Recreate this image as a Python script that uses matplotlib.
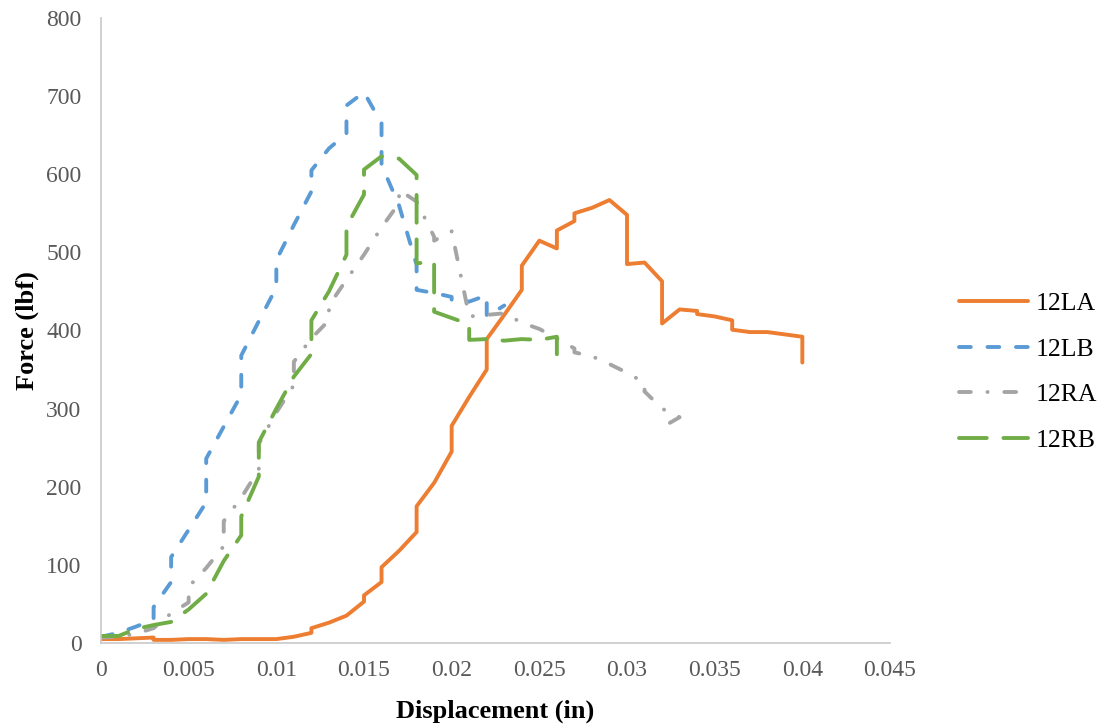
import matplotlib
matplotlib.use("Agg")
import matplotlib.pyplot as plt

# Load-displacement records for the four 12-series specimens
disp_12la = [0, 0.001, 0.002, 0.003, 0.003, 0.004, 0.005, 0.006, 0.007, 0.008, 0.009, 0.010,
             0.011, 0.012, 0.012, 0.013, 0.014, 0.015, 0.015, 0.016, 0.016, 0.017, 0.018, 0.018,
             0.019, 0.020, 0.020, 0.021, 0.022, 0.022, 0.023, 0.024, 0.024, 0.025, 0.026, 0.026,
             0.027, 0.027, 0.028, 0.029, 0.030, 0.030, 0.031, 0.032, 0.032, 0.033, 0.034, 0.034,
             0.035, 0.036, 0.036, 0.037, 0.038, 0.039, 0.040, 0.040]
force_12la = [5, 5, 6, 7, 4, 4, 5, 5, 4, 5, 5, 5,
              8, 13, 19, 26, 35, 53, 61, 78, 97, 118, 142, 175,
              205, 245, 278, 315, 350, 389, 420, 452, 483, 515, 505, 528,
              540, 550, 557, 567, 548, 485, 487, 463, 409, 427, 425, 421,
              418, 413, 401, 398, 398, 395, 392, 359]

disp_12lb = [0, 0.001, 0.002, 0.003, 0.003, 0.004, 0.004, 0.005, 0.006, 0.006, 0.007, 0.008,
             0.008, 0.009, 0.010, 0.010, 0.011, 0.012, 0.012, 0.013, 0.014, 0.014, 0.015, 0.016,
             0.016, 0.017, 0.018, 0.018, 0.019, 0.020, 0.020, 0.021, 0.022, 0.022, 0.023]
force_12lb = [8, 13, 21, 30, 46, 78, 110, 145, 180, 236, 277, 318,
              368, 412, 455, 490, 535, 578, 605, 633, 652, 688, 705, 665,
              612, 560, 484, 452, 448, 443, 438, 437, 445, 418, 432]

disp_12ra = [0, 0.001, 0.002, 0.003, 0.004, 0.005, 0.005, 0.006, 0.007, 0.007, 0.008, 0.009,
             0.009, 0.010, 0.011, 0.011, 0.012, 0.013, 0.013, 0.014, 0.015, 0.016, 0.017, 0.017,
             0.018, 0.019, 0.019, 0.020, 0.021, 0.022, 0.023, 0.024, 0.025, 0.026, 0.027, 0.027,
             0.028, 0.029, 0.030, 0.031, 0.031, 0.032, 0.033, 0.032]
force_12ra = [7, 8, 12, 19, 38, 52, 72, 96, 124, 156, 186, 222,
              255, 295, 330, 360, 390, 413, 432, 465, 497, 532, 563, 580,
              565, 520, 515, 527, 418, 420, 422, 410, 402, 390, 377, 372,
              367, 357, 346, 333, 322, 300, 289, 276]

disp_12rb = [0, 0.001, 0.002, 0.003, 0.004, 0.005, 0.006, 0.007, 0.008, 0.008, 0.009, 0.009,
             0.010, 0.011, 0.012, 0.012, 0.013, 0.014, 0.014, 0.015, 0.015, 0.016, 0.017, 0.018,
             0.018, 0.019, 0.019, 0.020, 0.021, 0.021, 0.022, 0.023, 0.024, 0.025, 0.026, 0.026]
force_12rb = [9, 9, 18, 23, 27, 43, 63, 105, 138, 162, 213, 257,
              300, 341, 370, 413, 450, 497, 533, 574, 606, 623, 620, 599,
              486, 488, 424, 416, 408, 388, 389, 387, 389, 388, 392, 364]

x_ticks = [0, 0.005, 0.01, 0.015, 0.02, 0.025, 0.03, 0.035, 0.04, 0.045]
x_tick_labels = ["0", "0.005", "0.01", "0.015", "0.02", "0.025", "0.03", "0.035", "0.04", "0.045"]
y_ticks = [0, 100, 200, 300, 400, 500, 600, 700, 800]

plt.rcParams["font.family"] = ["Liberation Serif", "DejaVu Serif"]
plt.rcParams["lines.scale_dashes"] = False

fig = plt.figure(figsize=(11.07, 7.28), dpi=100)
ax = fig.add_axes([101 / 1107, 1 - 643 / 728, 789 / 1107, 625 / 728])

lw = 2.8
ax.plot(disp_12la, force_12la, color="#ED7D31", lw=lw, solid_joinstyle="round",
        solid_capstyle="round", label="12LA")
ax.plot(disp_12lb, force_12lb, color="#5B9BD5", lw=lw, dashes=(8.5, 12),
        dash_capstyle="round", dash_joinstyle="round", label="12LB")
ax.plot(disp_12ra, force_12ra, color="#A5A5A5", lw=lw, dashes=(8.5, 12, 0.1, 12),
        dash_capstyle="round", dash_joinstyle="round", label="12RA")
ax.plot(disp_12rb, force_12rb, color="#70AD47", lw=lw, dashes=(20, 12),
        dash_capstyle="round", dash_joinstyle="round", label="12RB")

ax.set_xlim(0, 0.045)
ax.set_ylim(0, 800)
ax.set_xticks(x_ticks)
ax.set_xticklabels(x_tick_labels)
ax.set_yticks(y_ticks)
ax.tick_params(axis="both", length=0, labelsize=17, labelcolor="#595959")
ax.tick_params(axis="x", pad=12)
ax.tick_params(axis="y", pad=14)

for side in ("top", "right"):
    ax.spines[side].set_visible(False)
for side in ("left", "bottom"):
    ax.spines[side].set_color("#C8C8C8")
    ax.spines[side].set_linewidth(1.2)

ax.set_xlabel("Displacement (in)", fontsize=19, fontweight="bold", color="black")
ax.set_ylabel("Force (lbf)", fontsize=19, fontweight="bold", color="black")
ax.xaxis.set_label_coords(0.5, -0.09)
ax.yaxis.set_label_coords(-0.078, 0.5)

leg = fig.legend(loc="center left", bbox_to_anchor=(959 / 1107, 1 - 372 / 728),
                 frameon=False, fontsize=18.5, handlelength=2.7, handletextpad=0.3,
                 labelspacing=0.87, borderpad=0, borderaxespad=0)

fig.savefig("out.png", dpi=100)
